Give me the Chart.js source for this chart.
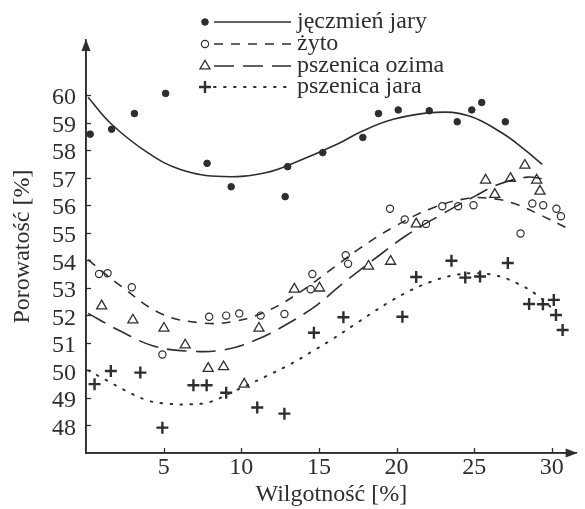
<!DOCTYPE html>
<html>
<head>
<meta charset="utf-8">
<script src="https://cdn.jsdelivr.net/npm/chart.js@4.4.1/dist/chart.umd.min.js"></script>
<style>
  html, body { margin: 0; padding: 0; background: #fff; }
  canvas { display: block; }
</style>
</head>
<body>
<canvas id="chart" width="585" height="509"></canvas>
<script>
// Series names (legend order)
const seriesNames = ['jęczmień jary', 'żyto', 'pszenica ozima', 'pszenica jara'];

// Measurements: [moisture %, porosity %]
const jeczmienPts = [[0.27,58.58],[1.65,58.76],[3.12,59.33],[5.13,60.06],[7.80,57.52],[9.35,56.67],[12.83,56.31],[12.99,57.40],[15.25,57.91],[17.83,58.46],[18.84,59.33],[20.11,59.46],[22.11,59.43],[23.91,59.03],[24.85,59.46],[25.49,59.73],[27.01,59.03]];
const zytoPts = [[0.84,53.50],[1.39,53.53],[2.95,53.02],[4.92,50.58],[7.93,51.95],[9.03,51.99],[9.87,52.07],[11.25,51.99],[12.78,52.05],[14.58,53.50],[14.47,52.95],[16.73,54.18],[16.88,53.87],[19.58,55.87],[20.53,55.48],[21.90,55.32],[22.95,55.96],[23.97,55.96],[24.96,56.00],[27.99,54.97],[28.75,56.06],[29.45,56.00],[30.30,55.87],[30.59,55.60]];
const ozimaPts = [[1.01,52.34],[3.02,51.83],[5.02,51.53],[6.39,50.92],[7.87,50.07],[8.86,50.13],[10.19,49.50],[11.14,51.53],[13.42,52.95],[15.04,52.99],[18.20,53.78],[19.62,53.96],[21.27,55.32],[25.74,56.91],[26.33,56.39],[27.34,56.97],[28.27,57.45],[29.03,56.91],[29.24,56.51]];
const jaraPts = [[0.55,49.50],[1.60,49.98],[3.50,49.92],[4.92,47.92],[6.92,49.46],[7.77,49.46],[9.03,49.19],[11.03,48.65],[12.78,48.43],[14.68,51.37],[16.58,51.93],[20.38,51.95],[21.27,53.39],[23.54,53.98],[24.43,53.37],[25.38,53.41],[27.17,53.90],[28.54,52.41],[29.43,52.40],[30.13,52.56],[30.27,52.01],[30.70,51.47]];

// Fitted trend curves, sampled along each line
const jeczmienFit = [[0.13,59.92],[1.65,58.94],[3.97,57.91],[6.08,57.30],[8.82,57.04],[11.56,57.18],[13.46,57.55],[16.20,58.22],[17.68,58.66],[19.79,59.12],[22.53,59.37],[24.64,59.25],[26.75,58.64],[28.23,58.03],[29.39,57.48]];
const zytoFit = [[0.13,54.02],[2.28,53.05],[4.81,52.07],[7.34,51.73],[9.45,51.77],[11.56,52.13],[13.67,52.80],[15.99,53.75],[17.68,54.45],[19.79,55.20],[22.32,55.90],[24.64,56.25],[26.33,56.23],[27.59,56.06],[29.07,55.70],[30.97,55.17]];
const ozimaFit = [[0.13,52.07],[2.28,51.41],[4.39,50.88],[6.71,50.70],[8.82,50.74],[10.93,51.10],[13.04,51.71],[14.94,52.40],[16.41,53.10],[18.94,54.20],[20.63,54.90],[22.70,55.60],[25.06,56.33],[26.54,56.75],[28.44,57.02],[29.35,56.96]];
const jaraFit = [[0.13,50.00],[1.33,49.64],[2.49,49.28],[3.97,48.91],[5.23,48.79],[6.71,48.77],[7.97,48.85],[9.45,49.22],[10.72,49.55],[11.98,49.89],[13.25,50.25],[14.51,50.67],[15.78,51.10],[17.26,51.65],[18.46,52.10],[19.64,52.52],[20.84,52.89],[22.17,53.21],[23.54,53.44],[24.96,53.53],[26.39,53.45],[27.74,53.17],[28.97,52.77],[30.13,52.20]];

// Axis ticks
const xTicks = [5, 10, 15, 20, 25, 30];
const yTicks = [48, 49, 50, 51, 52, 53, 54, 55, 56, 57, 58, 59, 60];

const ink = '#2e2e2e';
const serif = '"Liberation Serif", "Times New Roman", serif';
const toXY = arr => arr.map(([x, y]) => ({ x, y }));

const dashStyles = [[], [9, 8], [20, 9], [1.6, 8.4]];
const markerStyles = [
  { pointStyle: 'circle', radius: 3.3, borderWidth: 1, backgroundColor: ink, borderColor: ink },
  { pointStyle: 'circle', radius: 3.6, borderWidth: 1.2, backgroundColor: 'rgba(255,255,255,0)', borderColor: ink },
  { pointStyle: 'triangle', radius: 5.8, borderWidth: 1.3, backgroundColor: 'rgba(255,255,255,0)', borderColor: ink },
  { pointStyle: 'cross', radius: 6, borderWidth: 2.4, backgroundColor: ink, borderColor: ink }
];

const pointSets = [jeczmienPts, zytoPts, ozimaPts, jaraPts];
const fitSets = [jeczmienFit, zytoFit, ozimaFit, jaraFit];

const datasets = [];
fitSets.forEach((fit, i) => {
  datasets.push({
    label: seriesNames[i] + ' (trend)',
    data: toXY(fit),
    showLine: true,
    pointRadius: 0,
    borderColor: ink,
    borderWidth: i === 3 ? 2 : 1.6,
    borderDash: dashStyles[i],
    borderCapStyle: i === 3 ? 'round' : 'butt',
    tension: 0.4,
    fill: false
  });
});
pointSets.forEach((pts, i) => {
  const m = markerStyles[i];
  datasets.push({
    label: seriesNames[i],
    data: toXY(pts),
    showLine: false,
    pointStyle: m.pointStyle,
    pointRadius: m.radius,
    pointBorderWidth: m.borderWidth,
    pointBackgroundColor: m.backgroundColor,
    pointBorderColor: m.borderColor
  });
});

// Inward tick marks and arrowheads on the two axes
const axisMarks = {
  id: 'axisMarks',
  afterDatasetsDraw(chart) {
    const ctx = chart.ctx;
    const a = chart.chartArea;
    const xs = chart.scales.x, ys = chart.scales.y;
    ctx.save();
    ctx.setLineDash([]);
    ctx.globalAlpha = 1;
    ctx.strokeStyle = ink;
    ctx.fillStyle = ink;
    ctx.lineWidth = 1.6;
    ctx.beginPath();
    ctx.moveTo(a.left, a.top + 6);
    ctx.lineTo(a.left, a.bottom);
    ctx.lineTo(a.right - 6, a.bottom);
    ctx.stroke();
    ctx.lineWidth = 1.3;
    yTicks.forEach(v => {
      const py = Math.round(ys.getPixelForValue(v)) + 0.5;
      ctx.beginPath(); ctx.moveTo(a.left, py); ctx.lineTo(a.left + 5, py); ctx.stroke();
    });
    xTicks.forEach(v => {
      const px = Math.round(xs.getPixelForValue(v)) + 0.5;
      ctx.beginPath(); ctx.moveTo(px, a.bottom); ctx.lineTo(px, a.bottom - 5); ctx.stroke();
    });
    ctx.beginPath();
    ctx.moveTo(a.left, a.top - 1);
    ctx.lineTo(a.left - 4.5, a.top + 11);
    ctx.lineTo(a.left + 4.5, a.top + 11);
    ctx.closePath();
    ctx.fill();
    ctx.beginPath();
    ctx.moveTo(a.right + 1, a.bottom);
    ctx.lineTo(a.right - 11, a.bottom - 4.5);
    ctx.lineTo(a.right - 11, a.bottom + 4.5);
    ctx.closePath();
    ctx.fill();
    ctx.restore();
  }
};

// Legend block: marker, line sample and name on each row
const legendBlock = {
  id: 'legendBlock',
  afterDraw(chart) {
    const ctx = chart.ctx;
    const rows = [22, 44, 66, 87];
    const markX = 205, lineX0 = 214, lineX1 = 291, textX = 297;
    ctx.save();
    ctx.font = '24px ' + serif;
    ctx.textBaseline = 'middle';
    ctx.textAlign = 'left';
    seriesNames.forEach((name, i) => {
      const ry = rows[i];
      const m = markerStyles[i];
      ctx.save();
      ctx.strokeStyle = ink;
      ctx.setLineDash(dashStyles[i]);
      ctx.lineCap = i === 3 ? 'round' : 'butt';
      ctx.lineWidth = i === 3 ? 2 : 1.6;
      ctx.beginPath(); ctx.moveTo(lineX0, ry); ctx.lineTo(lineX1, ry); ctx.stroke();
      ctx.restore();
      ctx.save();
      ctx.fillStyle = m.backgroundColor;
      ctx.strokeStyle = m.borderColor;
      ctx.lineWidth = m.borderWidth;
      Chart.helpers.drawPoint(ctx, { pointStyle: m.pointStyle, radius: m.radius, borderWidth: m.borderWidth, rotation: 0 }, markX, ry);
      ctx.restore();
      ctx.fillStyle = ink;
      ctx.fillText(name, textX, ry);
    });
    ctx.restore();
  }
};

new Chart(document.getElementById('chart'), {
  type: 'scatter',
  data: { datasets },
  options: {
    responsive: false,
    animation: false,
    devicePixelRatio: 1,
    layout: { padding: { top: 40, right: 0, left: 0, bottom: 0 } },
    plugins: { legend: { display: false }, tooltip: { enabled: false } },
    scales: {
      x: {
        type: 'linear',
        min: 0,
        max: 31.6,
        afterBuildTicks: s => { s.ticks = xTicks.map(v => ({ value: v })); },
        afterFit: s => { s.height = 56; },
        grid: { display: true, drawOnChartArea: false, drawTicks: false, color: 'rgba(0,0,0,0)' },
        border: { display: true, color: ink, width: 1.6 },
        ticks: { color: ink, font: { family: serif, size: 24 }, padding: 0, maxRotation: 0, autoSkip: false },
        title: { display: true, text: 'Wilgotność [%]', color: ink, font: { family: serif, size: 24 }, padding: { top: 0, bottom: 0 } }
      },
      y: {
        type: 'linear',
        min: 47,
        max: 62,
        afterBuildTicks: s => { s.ticks = yTicks.map(v => ({ value: v })); },
        afterFit: s => { s.width = 86; },
        grid: { display: true, drawOnChartArea: false, drawTicks: false, color: 'rgba(0,0,0,0)' },
        border: { display: true, color: ink, width: 1.6 },
        ticks: { color: ink, font: { family: serif, size: 24 }, padding: 10, labelOffset: 3, autoSkip: false },
        title: { display: true, text: 'Porowatość [%]', color: ink, font: { family: serif, size: 24 }, padding: { top: 8, bottom: 0 } }
      }
    }
  },
  plugins: [axisMarks, legendBlock]
});
</script>
</body>
</html>
